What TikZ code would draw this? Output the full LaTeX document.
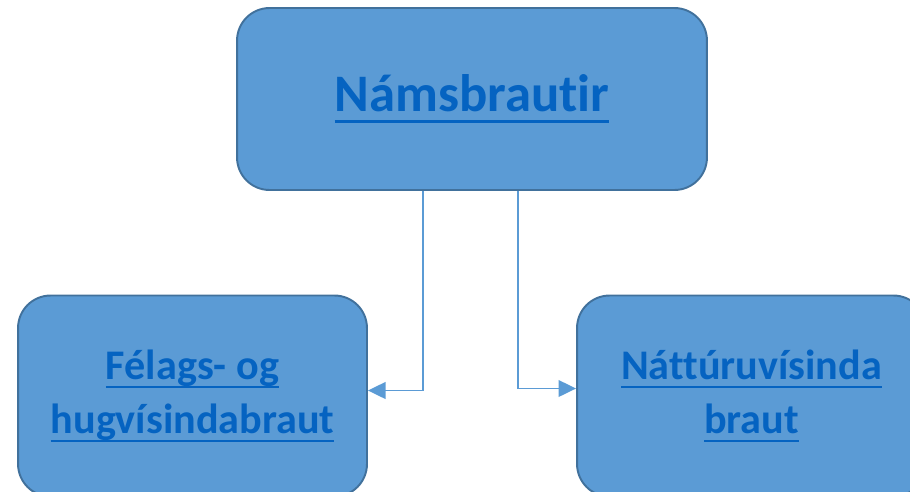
\documentclass[tikz,border=0pt]{standalone}
\usepackage{fontspec}
\setmainfont{Carlito}[Ligatures=NoCommon]
\usetikzlibrary{arrows.meta}
\definecolor{boxfill}{HTML}{5B9BD5}
\definecolor{boxline}{HTML}{41719C}
\definecolor{linktext}{HTML}{0563C1}
\newcommand{\ultext}[1]{\setbox0\hbox{#1}\rlap{\rule[-0.21em]{\wd0}{0.05em}}\box0}
\begin{document}
\begin{tikzpicture}[x=0.02cm, y=-0.02cm, >={Triangle[length=10pt,width=9.5pt]},
  box/.style={draw=boxline, line width=1.1pt, fill=boxfill, rounded corners=0.65cm,
    inner sep=0pt, align=center, text=linktext, font=\bfseries},
  link/.style={draw=boxfill, line width=1pt}]
\clip (0,0) rectangle (910,491);
%top
\node[box, minimum width=9.4cm, minimum height=3.64cm, font=\bfseries\fontsize{30}{36}\selectfont]
  (mainbox) at (472,99) {\ultext{Námsbrautir}};
%left
\node[box, minimum width=6.98cm, minimum height=4.02cm, font=\bfseries\fontsize{24}{31}\selectfont]
  (leftbox) at (192.5,396) {\ultext{Félags- og}\\\ultext{hugvísindabraut}};
%right
\node[box, minimum width=6.98cm, minimum height=4.02cm, font=\bfseries\fontsize{24}{31}\selectfont]
  (rightbox) at (751.5,396) {\ultext{Náttúruvísinda}\\\ultext{braut}};
%links
\draw[link,->] ([xshift=-0.98cm]mainbox.south) |- ([yshift=0.11cm]leftbox.east);
\draw[link,->] ([xshift=0.92cm]mainbox.south) |- ([yshift=0.15cm]rightbox.west);
\end{tikzpicture}
\end{document}
